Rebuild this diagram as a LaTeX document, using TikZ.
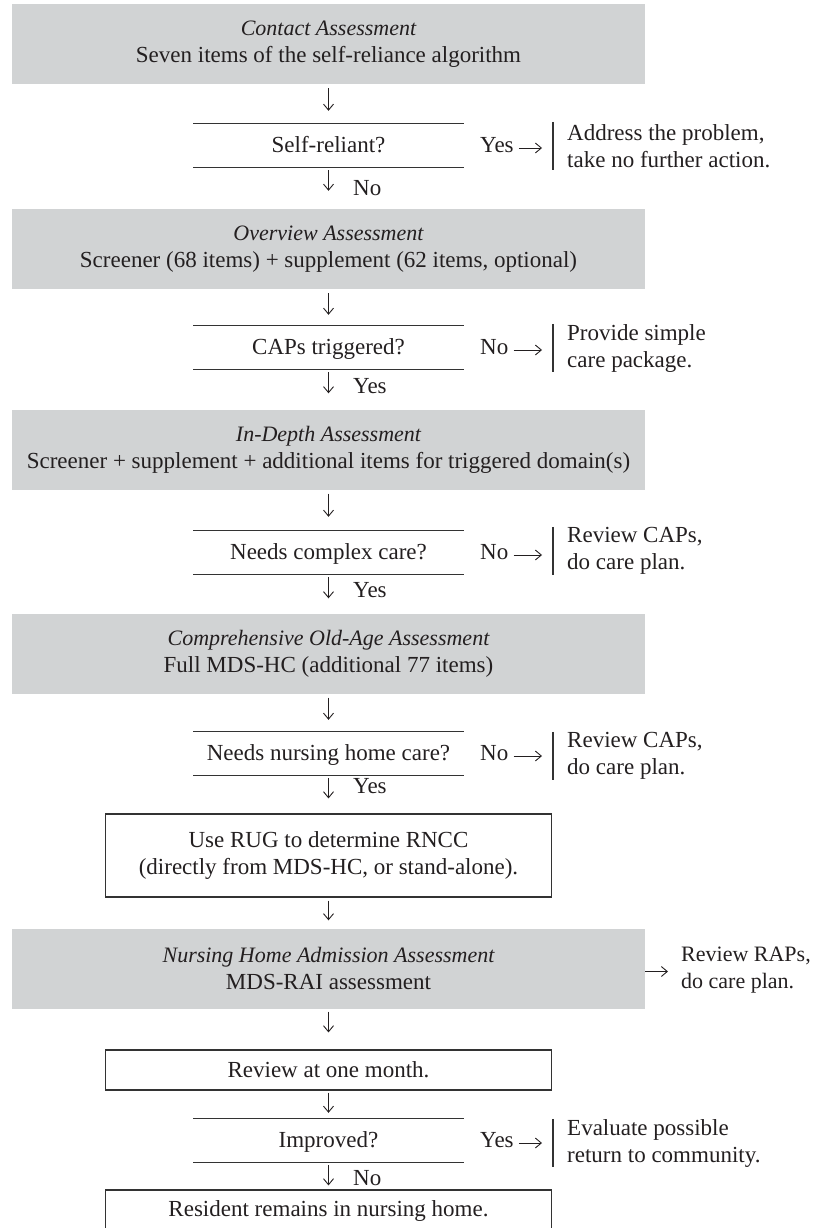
\documentclass[tikz,border=0pt]{standalone}
\usepackage{fontspec}
\setmainfont{Liberation Serif}
\usetikzlibrary{arrows.meta}
\definecolor{boxgray}{RGB}{209,211,212}
\definecolor{ink}{RGB}{35,31,32}
\definecolor{rulec}{RGB}{51,51,51}
\begin{document}
\begin{tikzpicture}[x=1pt,y=-1pt,
  every node/.style={text=ink, font=\fontsize{23}{27}\selectfont},
  graybox/.style={fill=boxgray, inner sep=0pt, minimum width=633pt, minimum height=80pt, align=center},
  whitebox/.style={draw=rulec, line width=1.2pt, inner sep=0pt, minimum width=446pt, align=center},
  question/.style={inner sep=0pt, minimum width=270pt, minimum height=43pt, text height=16pt, text depth=3pt},
  answer/.style={inner sep=0pt, anchor=west, text height=8pt, text depth=0pt},
  downlabel/.style={inner sep=0pt, anchor=base west},
  outcome/.style={inner sep=0pt, inner xsep=14pt, anchor=west, minimum height=48pt, align=left},
  arr/.style={draw=ink, line width=0.9pt, -{Straight Barb[length=6pt,width=10pt]}},
  rulel/.style={draw=rulec, line width=1.2pt},
]
\useasboundingbox (0,0) rectangle (814,1228);

% main column
\node[graybox] (g1) at (328.5,44) {{\fontsize{22}{27}\selectfont\itshape Contact Assessment}\\Seven items of the self-reliance algorithm};
\node[question] (d1) at (328.5,145.5) {Self-reliant?};
\node[graybox] (g2) at (328.5,249) {{\fontsize{22}{27}\selectfont\itshape Overview Assessment}\\Screener (68 items) + supplement (62 items, optional)};
\node[question] (d2) at (328.5,347.5) {CAPs triggered?};
\node[graybox] (g3) at (328.5,449.5) {{\fontsize{22}{27}\selectfont\itshape In-Depth Assessment}\\Screener + supplement + additional items for triggered domain(s)};
\node[question] (d3) at (328.5,552.5) {Needs complex care?};
\node[graybox] (g4) at (328.5,653.5) {{\fontsize{22}{27}\selectfont\itshape Comprehensive Old-Age Assessment}\\Full MDS-HC (additional 77 items)};
\node[question] (d4) at (328.5,753.5) {Needs nursing home care?};
\node[whitebox, minimum height=83pt] (w1) at (328.5,855.5) {Use RUG to determine RNCC\\(directly from MDS-HC, or stand-alone).};
\node[graybox] (g5) at (328.5,968.5) {{\fontsize{22}{27}\selectfont\itshape Nursing Home Admission Assessment}\\MDS-RAI assessment};
\node[whitebox, minimum height=40pt] (w2) at (328.5,1070) {Review at one month.};
\node[question] (d5) at (328.5,1140.5) {Improved?};
\node[whitebox, minimum height=42pt] (w3) at (328.5,1211) {Resident remains in nursing home.};

% decision rules
\foreach \d in {d1,d2,d3,d4,d5}{
  \draw[rulel] (\d.north west) -- (\d.north east) (\d.south west) -- (\d.south east);
}

% side answers and outcomes
\node[answer] (a1) at (480,148) {Yes};
\node[outcome] (o1) at (553,146) {Address the problem,\\take no further action.};
\node[answer] (a2) at (480,350) {No};
\node[outcome] (o2) at (553,348) {Provide simple\\care package.};
\node[answer] (a3) at (480,555) {No};
\node[outcome] (o3) at (553,551) {Review CAPs,\\do care plan.};
\node[answer] (a4) at (480,756) {No};
\node[outcome] (o4) at (553,756) {Review CAPs,\\do care plan.};
\node[answer] (a5) at (480,1143) {Yes};
\node[outcome] (o5) at (553,1143) {Evaluate possible\\return to community.};
\foreach \a/\o in {a1/o1,a2/o2,a3/o3,a4/o4,a5/o5}{
  \draw[rulel] (\o.north west) -- (\o.south west);
  \draw[arr, shorten <=5pt, shorten >=11pt] (\a.east) -- (\a.east -| \o.west);
}

\node[inner sep=0pt, anchor=west, align=left, font=\fontsize{22}{27}\selectfont] (o6) at (681,970) {Review RAPs,\\do care plan.};
\draw[arr, shorten >=13pt] ([yshift=-3pt]g5.east) -- ([yshift=-3pt]g5.east -| o6.west);

% down labels
\node[downlabel] (n1) at (353,195) {No};
\node[downlabel] (n2) at (353,393) {Yes};
\node[downlabel] (n3) at (353,597) {Yes};
\node[downlabel] (n4) at (353,793) {Yes};
\node[downlabel] (n5) at (353,1185) {No};

% down arrows
\draw[arr, shorten <=4pt, shorten >=13pt] (g1.south) -- (d1.north);
\draw[arr, shorten <=3pt, shorten >=18pt] (d1.south) -- (g2.north);
\draw[arr, shorten <=4pt, shorten >=11pt] (g2.south) -- (d2.north);
\draw[arr, shorten <=3pt, shorten >=16pt] (d2.south) -- (g3.north);
\draw[arr, shorten <=4pt, shorten >=14pt] (g3.south) -- (d3.north);
\draw[arr, shorten <=3pt, shorten >=15pt] (d3.south) -- (g4.north);
\draw[arr, shorten <=4pt, shorten >=12pt] (g4.south) -- (d4.north);
\draw[arr, shorten <=3pt, shorten >=15pt] (d4.south) -- (w1.north);
\draw[arr, shorten <=3pt, shorten >=8pt] (w1.south) -- (g5.north);
\draw[arr, shorten <=3pt, shorten >=17pt] (g5.south) -- (w2.north);
\draw[arr, shorten <=2pt, shorten >=6pt] (w2.south) -- (d5.north);
\draw[arr, shorten <=3pt, shorten >=4pt] (d5.south) -- (w3.north);
\end{tikzpicture}
\end{document}
